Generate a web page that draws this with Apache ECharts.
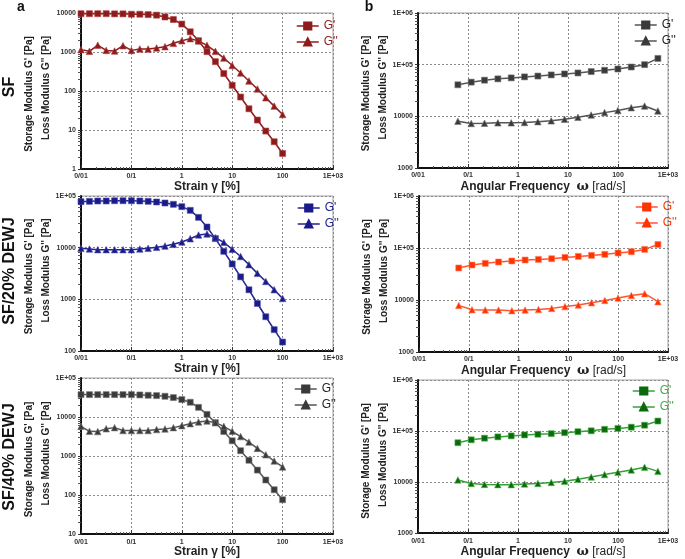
<!DOCTYPE html>
<html>
<head>
<meta charset="utf-8">
<script src="https://cdn.jsdelivr.net/npm/echarts@6/dist/echarts.min.js"></script>
<style>html,body{margin:0;padding:0;background:#fff}#c{width:685px;height:559px}</style>
</head>
<body>
<div id="c"></div>
<script>
// ---- data ----
const strainX = [0.01, 0.0147, 0.0215, 0.0316, 0.0464, 0.0681, 0.1, 0.147, 0.215, 0.316, 0.464, 0.681, 1, 1.47, 2.15, 3.16, 4.64, 6.81, 10, 14.7, 21.5, 31.6, 46.4, 68.1, 100];
const freqX = [0.0628, 0.116, 0.214, 0.396, 0.732, 1.35, 2.5, 4.62, 8.54, 15.8, 29.1, 53.9, 99.5, 184, 340, 628];

const sfStrainGp  = [9600, 9600, 9600, 9600, 9500, 9500, 9300, 9300, 9100, 8800, 7900, 6800, 5200, 3300, 1950, 1020, 565, 280, 140, 70, 35, 18, 9.4, 5, 2.5];
const sfStrainGpp = [1150, 1040, 1500, 1100, 1060, 1450, 1100, 1200, 1190, 1270, 1370, 1670, 1950, 2200, 1920, 1480, 1040, 700, 450, 290, 180, 113, 67, 41, 25];
const d20StrainGp  = [77600, 78800, 80000, 80000, 81000, 81000, 81000, 80000, 78800, 76500, 73200, 69000, 62200, 52800, 38600, 25100, 15000, 8500, 4830, 2720, 1530, 830, 460, 259, 149];
const d20StrainGpp = [9700, 9420, 9150, 9150, 9150, 9150, 9150, 9420, 9700, 10150, 10750, 11600, 12900, 14900, 17600, 18400, 15600, 12700, 9300, 6730, 4690, 3180, 2220, 1540, 1040];
const d40StrainGp  = [37500, 37500, 37500, 37500, 37500, 37500, 37500, 36800, 36100, 35400, 34000, 31500, 28000, 23900, 17700, 11700, 7170, 4260, 2460, 1370, 780, 437, 243, 137, 76];
const d40StrainGpp = [5780, 4310, 4230, 5000, 5350, 4500, 4500, 4500, 4500, 4770, 4950, 5350, 6000, 6760, 7450, 7900, 7170, 5780, 4310, 3150, 2280, 1570, 1080, 745, 525];

const sfFreqGp  = [40800, 45900, 50100, 53100, 55500, 58000, 60200, 63300, 66200, 69100, 73500, 77900, 82400, 90000, 100000, 132000];
const sfFreqGpp = [8030, 7260, 7350, 7480, 7480, 7580, 7880, 8170, 8770, 9570, 10600, 11800, 13000, 14700, 15800, 12700];
const d20FreqGp  = [41300, 47100, 50700, 53800, 56200, 58800, 60400, 62200, 65900, 69000, 72100, 75500, 80200, 84900, 94000, 117000];
const d20FreqGpp = [7870, 6500, 6420, 6420, 6230, 6420, 6550, 6900, 7460, 8030, 8870, 9830, 10900, 12200, 13200, 9280];
const d40FreqGp  = [59000, 67300, 72400, 76800, 80300, 83800, 86400, 88800, 92800, 97000, 101000, 108000, 112600, 119000, 130000, 157000];
const d40FreqGpp = [11000, 9400, 9000, 8900, 8900, 9150, 9400, 9830, 10400, 11400, 12600, 14000, 15500, 17200, 19600, 16200];

const xTickLabels = ['0/01', '0/1', '1', '10', '100', '1E+03'];          // 10^-2 .. 10^3
const yTickLabels = ['1', '10', '100', '1000', '10000', '1E+05', '1E+06']; // 10^0 .. 10^6
const legendNames = ["G'", "G''"];
const rowLabels = ['SF', 'SF/20% DEWJ', 'SF/40% DEWJ'];

// ---- layout ----
const panels = [
  {id:'a1', left:81,  top:13,  w:252, h:156, ymin:1,    ymax:1e4, x:strainX, gp:sfStrainGp,  gpp:sfStrainGpp,  line:'#8e1b1b', mk:'#8e1b1b', mkb:'#b04040', txt:'#8e1b1b', kind:'s', lg:[291,15]},
  {id:'b1', left:418, top:13,  w:250, h:155, ymin:1000, ymax:1e6, x:freqX,   gp:sfFreqGp,    gpp:sfFreqGpp,    line:'#555555', mk:'#3a3a3a', mkb:'#777', txt:'#222', kind:'f', lg:[629,14]},
  {id:'a2', left:81,  top:196, w:252, h:155, ymin:100,  ymax:1e5, x:strainX, gp:d20StrainGp, gpp:d20StrainGpp, line:'#22228c', mk:'#1a1a88', mkb:'#5050b0', txt:'#22228c', kind:'s', lg:[292,197]},
  {id:'b2', left:419, top:196, w:249, h:156, ymin:1000, ymax:1e6, x:freqX,   gp:d20FreqGp,   gpp:d20FreqGpp,   line:'#ff5530', mk:'#ff3300', mkb:'#ff8060', txt:'#ff3300', kind:'f', lg:[630,196]},
  {id:'a3', left:81,  top:378, w:252, h:157, ymin:10,   ymax:1e5, x:strainX, gp:d40StrainGp, gpp:d40StrainGpp, line:'#555555', mk:'#3a3a3a', mkb:'#777', txt:'#222', kind:'s', lg:[289,378]},
  {id:'b3', left:418, top:380, w:250, h:156, ymin:1000, ymax:1e6, x:freqX,   gp:d40FreqGp,   gpp:d40FreqGpp,   line:'#3a9e3a', mk:'#0b6a0b', mkb:'#55bb55', txt:'#3cb043', kind:'f', lg:[627,380]}
];

const FONT = 'Liberation Sans, Arial, sans-serif';
const grids = [], xAxes = [], yAxes = [], series = [], legends = [], graphics = [];

function xFmt(v){ const e = Math.round(Math.log10(v)); return xTickLabels[e + 2] || ''; }
function yFmt(v){ const e = Math.round(Math.log10(v)); return yTickLabels[e] || ''; }

panels.forEach((p, i) => {
  grids.push({left:p.left, top:p.top, width:p.w, height:p.h, show:true, borderColor:'#a0a0a0', borderWidth:1, backgroundColor:'transparent'});
  const split = {show:true, lineStyle:{color:'#8a8a8a', type:[2,2], width:1}};
  xAxes.push({
    type:'log', logBase:10, min:0.01, max:1000, splitNumber:5, gridIndex:i,
    axisLine:{show:true, onZero:false, lineStyle:{color:'#111', width:2}},
    axisTick:{show:true, inside:true, length:4, lineStyle:{color:'#333'}},
    minorTick:{show:true, splitNumber:9, length:2, lineStyle:{color:'#555'}},
    splitLine:split,
    axisLabel:{formatter:xFmt, fontSize:7, fontWeight:'bold', color:'#333', fontFamily:FONT, margin:4},
    name: p.kind === 's' ? 'Strain γ [%]' : 'Angular Frequency  {w|ω} {n|[rad/s]}',
    nameLocation:'middle', nameGap:7,
    nameTextStyle:{fontSize:12, fontWeight:'bold', color:'#222', fontFamily:FONT, verticalAlign:'top',
      rich:{w:{fontSize:13, fontWeight:'bold', fontFamily:'DejaVu Serif', color:'#222'}, n:{fontSize:12, fontWeight:'normal', color:'#222', fontFamily:FONT}}}
  });
  const dec = Math.round(Math.log10(p.ymax / p.ymin));
  yAxes.push({
    type:'log', logBase:10, min:p.ymin, max:p.ymax, splitNumber:dec, gridIndex:i,
    axisLine:{show:true, onZero:false, lineStyle:{color:'#111', width:2}},
    axisTick:{show:true, inside:false, length:3, lineStyle:{color:'#333'}},
    minorTick:{show:true, splitNumber:9, length:3, lineStyle:{color:'#555'}},
    splitLine:split,
    axisLabel:{formatter:yFmt, fontSize:7, fontWeight:'bold', color:'#333', fontFamily:FONT, margin:5}
  });
  const mk = (arr) => p.x.map((x, k) => [x, arr[k]]);
  [[p.gp, 'rect', 6], [p.gpp, 'triangle', 6.5]].forEach((s, j) => {
    series.push({
      type:'line', name: p.id + '|' + legendNames[j], xAxisIndex:i, yAxisIndex:i,
      data: mk(s[0]), symbol:s[1], symbolSize:s[2], showSymbol:true, animation:false, clip:false,
      lineStyle:{color:p.line, width:1.5},
      itemStyle:{color:p.mk, borderColor:p.mkb, borderWidth:0.6},
      emphasis:{disabled:true}
    });
  });
  legends.push({
    data:[p.id + '|' + legendNames[0], p.id + '|' + legendNames[1]],
    orient:'vertical', left:p.lg[0], top:p.lg[1], itemWidth:22, itemHeight:9, itemGap:4,
    formatter: n => n.split('|')[1],
    itemStyle:{color:p.mk, borderColor:p.mk},
    lineStyle:{color:p.line, width:1.5},
    textStyle:{color:p.txt, fontSize:12, fontFamily:FONT},
    selectedMode:false
  });
  // y-axis two-line title
  const cy = p.top + p.h / 2;
  const sx = p.left - 52, lx = p.left - 35;
  graphics.push({type:'text', x:sx, y:cy + 3, rotation:Math.PI/2,
    style:{text:"Storage Modulus G' [Pa]", align:'center', verticalAlign:'middle', font:'bold 10px ' + FONT, fill:'#222'}});
  graphics.push({type:'text', x:lx, y:cy - 3, rotation:Math.PI/2,
    style:{text:"Loss Modulus G'' [Pa]", align:'center', verticalAlign:'middle', font:'bold 10px ' + FONT, fill:'#222'}});
});

[[10, 87], [10, 271], [10, 457]].forEach((pos, r) => {
  graphics.push({type:'text', x:pos[0], y:pos[1], rotation:Math.PI/2,
    style:{text:rowLabels[r], align:'center', verticalAlign:'middle', font:'bold 16px ' + FONT, fill:'#111'}});
});
graphics.push({type:'text', x:21, y:7, style:{text:'a', align:'center', verticalAlign:'middle', font:'bold 14px ' + FONT, fill:'#111'}});
graphics.push({type:'text', x:369, y:7, style:{text:'b', align:'center', verticalAlign:'middle', font:'bold 14px ' + FONT, fill:'#111'}});

const chart = echarts.init(document.getElementById('c'), null, {renderer:'canvas'});
chart.setOption({
  backgroundColor:'#fff',
  animation:false,
  grid:grids, xAxis:xAxes, yAxis:yAxes, series:series, legend:legends, graphic:graphics
});
</script>
</body>
</html>
